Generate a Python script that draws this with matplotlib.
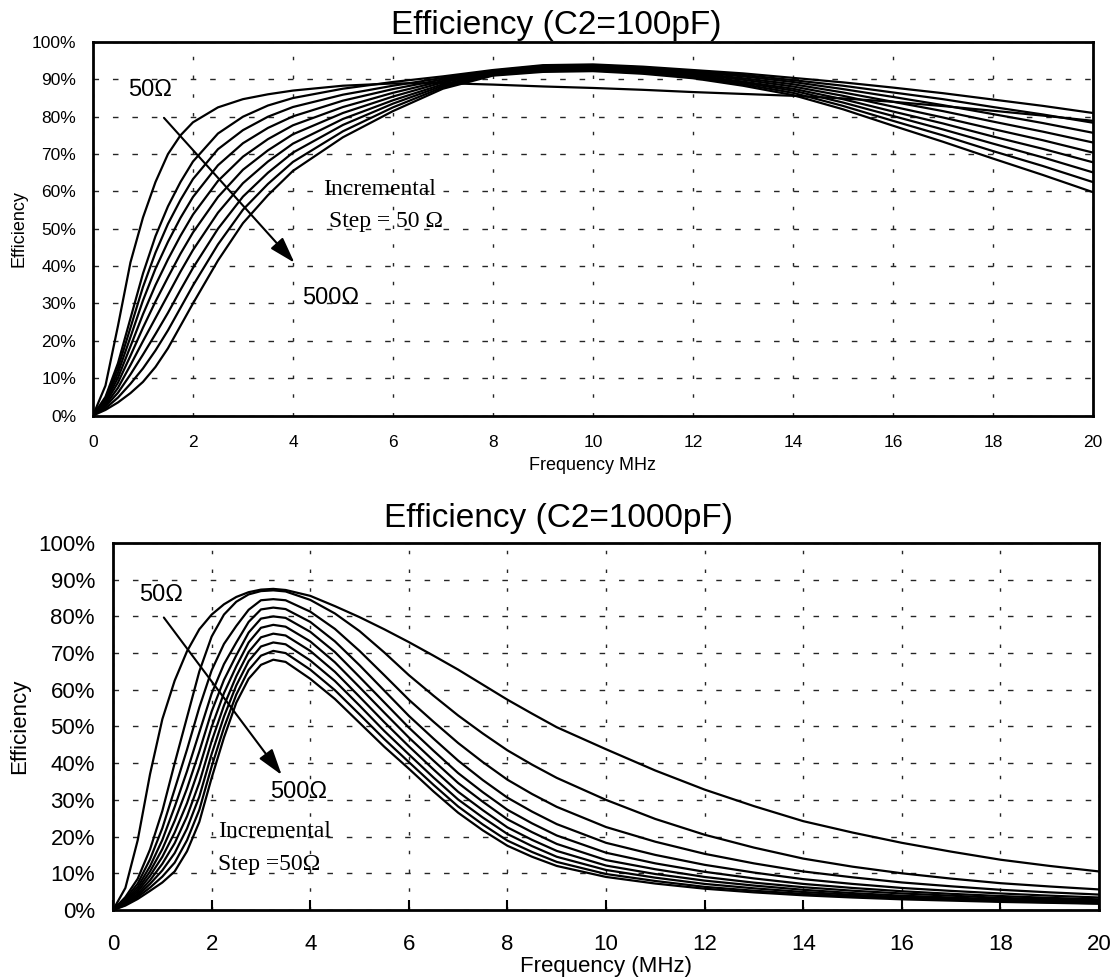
import matplotlib.pyplot as plt

# -------------------------------------------------
# Data (efficiency in %)
# -------------------------------------------------
loads = ["50", "100", "150", "200", "250", "300", "350", "400", "450", "500"]

# C2 = 100pF
freq_100pF = [0, 0.25, 0.5, 0.75, 1, 1.25, 1.5, 1.75, 2, 2.5, 3, 3.5, 4, 5, 6, 7,
              8, 9, 10, 11, 12, 13, 14, 15, 16, 17, 18, 19, 20]
eff100_50 = [0, 8, 24, 41, 53, 62.5, 70, 75, 78.5, 82.5, 84.7, 86, 87, 88.3, 88.9, 89,
             88.6, 88.1, 87.7, 87.2, 86.6, 86.1, 85.6, 84.9, 84, 82.85, 81.6, 80.3, 78.9]
eff100_100 = [0, 5, 14, 26, 38, 48, 56, 62.5, 68, 75.5, 80, 83, 85, 87.5, 89.3, 90.8,
              92.5, 93.8, 94, 93.4, 92.5, 91.6, 90.4, 89.2, 87.8, 86.3, 84.6, 82.9, 81]
eff100_150 = [0, 4.6, 12.7, 23.5, 34.4, 43.6, 51.3, 57.7, 63.3, 71.3, 76.4, 80, 82.6, 85.9, 88.3, 90.4,
              92.3, 93.6, 93.8, 93.2, 92.2, 91.2, 89.8, 88.3, 86.5, 84.7, 82.6, 80.6, 78.4]
eff100_200 = [0, 4.1, 11.4, 21, 30.8, 39.3, 46.5, 52.9, 58.5, 67, 72.9, 77, 80.1, 84.3, 87.4, 90,
              92.1, 93.4, 93.6, 93.0, 92, 90.8, 89.3, 87.4, 85.3, 83.1, 80.7, 78.3, 75.7]
eff100_250 = [0, 3.7, 10.1, 18.5, 27.1, 34.9, 41.8, 48.1, 53.8, 62.8, 69.3, 74, 77.7, 82.6, 86.4, 89.6,
              91.9, 93.1, 93.3, 92.7, 91.7, 90.3, 88.7, 86.5, 84, 81.5, 78.7, 76.0, 73.1]
eff100_300 = [0, 3.3, 8.8, 16, 23.5, 30.5, 37, 43.3, 49, 58.5, 65.8, 71, 75.3, 81, 85.4, 89.2,
              91.8, 92.9, 93.1, 92.5, 91.4, 89.9, 88.1, 85.6, 82.7, 79.8, 76.7, 73.7, 70.4]
eff100_350 = [0, 2.8, 7.4, 13.5, 19.9, 26.1, 32.3, 38.5, 44.3, 54.3, 62.2, 68, 72.8, 79.4, 84.4, 88.7,
              91.6, 92.7, 92.9, 92.2, 91.1, 89.4, 87.5, 84.7, 81.4, 78.2, 74.7, 71.4, 67.8]
eff100_400 = [0, 2.4, 6.1, 11, 16.3, 21.8, 27.5, 33.6, 39.5, 50, 58.6, 65, 70.4, 77.8, 83.5, 88.3,
              91.4, 92.5, 92.7, 92.0, 90.9, 89.1, 87, 83.8, 80.2, 76.6, 72.8, 69.1, 65.1]
eff100_450 = [0, 1.9, 4.8, 8.5, 12.6, 17.4, 22.8, 28.8, 34.8, 45.8, 55.1, 62, 67.9, 76.1, 82.5, 87.9,
              91.2, 92.2, 92.4, 91.7, 90.6, 88.7, 86.4, 82.9, 78.9, 75.0, 70.8, 66.8, 62.5]
eff100_500 = [0, 1.5, 3.5, 6, 9, 13, 18, 24, 30, 41.5, 51.5, 59, 65.5, 74.5, 81.5, 87.5,
              91, 92, 92.2, 91.5, 90.3, 88.3, 85.8, 82, 77.6, 73.3, 68.8, 64.4, 59.8]
curves_100pF = [eff100_50, eff100_100, eff100_150, eff100_200, eff100_250,
                eff100_300, eff100_350, eff100_400, eff100_450, eff100_500]

# C2 = 1000pF
freq_1000pF = [0, 0.25, 0.5, 0.75, 1, 1.25, 1.5, 1.75, 2, 2.25, 2.5, 2.75, 3, 3.25, 3.5,
               4, 4.5, 5, 5.5, 6, 6.5, 7, 7.5, 8, 8.5, 9, 10, 11, 12, 13, 14, 15, 16, 17,
               18, 19, 20]
eff1000_50 = [0, 6, 19, 37, 52, 62.5, 70.5, 76.5, 80.5, 83.3, 85.3, 86.6, 87.3, 87.5, 87.2,
              85.6, 82.8, 79.8, 76.5, 73, 69.3, 65.5, 61.4, 57.3, 53.5, 49.8, 43.8, 38, 32.8,
              28.3, 24.2, 21.1, 18.3, 15.9, 13.7, 12.0, 10.5]
eff1000_100 = [0, 3.5, 8.5, 16.5, 27, 40, 52.5, 65, 74.5, 80.5, 84, 86, 86.9, 87.1, 86.8,
               84.5, 80.8, 76, 70.2, 64, 58.4, 53, 48.1, 43.5, 39.6, 36, 30, 24.8, 20.5,
               17.0, 14, 11.8, 10, 8.55, 7.3, 6.4, 5.6]
eff1000_150 = [0, 3.0, 7.2, 13.8, 22.3, 32.9, 43.7, 55.2, 65.3, 72.5, 77.4, 81.8, 84.4, 84.7, 84.4,
               81.3, 76.6, 70.6, 64.0, 57.3, 51.3, 45.5, 40.3, 35.5, 31.6, 28.1, 22.6, 18.6, 15.3,
               12.7, 10.5, 8.9, 7.5, 6.45, 5.5, 4.8, 4.2]
eff1000_200 = [0, 2.6, 6.3, 11.9, 19.1, 28.1, 37.8, 48.4, 59.0, 67.0, 72.9, 78.5, 81.9, 82.4, 82.0,
               78.5, 73.2, 66.7, 59.8, 52.9, 46.7, 40.7, 35.4, 30.6, 26.8, 23.4, 18.3, 15.0, 12.3,
               10.2, 8.4, 7.1, 6.0, 5.2, 4.5, 3.9, 3.4]
eff1000_250 = [0, 2.3, 5.6, 10.5, 16.6, 24.3, 33.1, 43.2, 54.1, 62.7, 69.4, 75.6, 79.4, 80.0, 79.6,
               75.8, 70.3, 63.5, 56.6, 49.7, 43.4, 37.3, 32.1, 27.3, 23.6, 20.3, 15.6, 12.7, 10.4,
               8.6, 7.1, 6.0, 5.1, 4.4, 3.8, 3.3, 2.9]
eff1000_300 = [0, 2.0, 5.0, 9.3, 14.5, 21.1, 29.1, 38.8, 49.9, 59.1, 66.4, 72.9, 76.9, 77.7, 77.2,
               73.2, 67.5, 60.7, 53.8, 47.0, 40.7, 34.6, 29.5, 24.7, 21.2, 18.0, 13.6, 11.1, 9.0,
               7.45, 6.2, 5.25, 4.5, 3.9, 3.3, 2.95, 2.6]
eff1000_350 = [0, 1.8, 4.4, 8.1, 12.6, 18.2, 25.5, 34.7, 46.0, 55.7, 63.7, 70.3, 74.3, 75.3, 74.8,
               70.6, 64.9, 58.1, 51.2, 44.6, 38.3, 32.2, 27.2, 22.5, 19.1, 16.1, 12.1, 9.8, 8.0,
               6.65, 5.5, 4.6, 3.9, 3.4, 2.9, 2.6, 2.3]
eff1000_400 = [0, 1.6, 3.9, 7.1, 10.8, 15.5, 22.2, 30.9, 42.5, 52.7, 61.2, 67.8, 71.8, 72.9, 72.4,
               68.0, 62.4, 55.7, 48.8, 42.4, 36.1, 30.1, 25.2, 20.7, 17.4, 14.5, 10.9, 8.8, 7.1,
               5.9, 4.9, 4.15, 3.5, 3.1, 2.7, 2.4, 2.1]
eff1000_450 = [0, 1.4, 3.5, 6.1, 9.1, 12.9, 19.0, 27.3, 39.1, 49.7, 58.7, 65.4, 69.3, 70.6, 70.0,
               65.5, 59.9, 53.3, 46.6, 40.3, 34.1, 28.2, 23.3, 18.9, 15.8, 13.1, 9.8, 7.9, 6.3,
               5.25, 4.4, 3.75, 3.2, 2.8, 2.4, 2.1, 1.8]
eff1000_500 = [0, 1.2, 3, 5.2, 7.5, 10.5, 16, 24, 36, 47, 56.5, 63, 66.8, 68.2, 67.6,
               63, 57.5, 51, 44.5, 38.5, 32.3, 26.5, 21.7, 17.5, 14.5, 12, 9, 7.2, 5.8,
               4.8, 4, 3.4, 2.9, 2.55, 2.2, 1.95, 1.7]
curves_1000pF = [eff1000_50, eff1000_100, eff1000_150, eff1000_200, eff1000_250,
                 eff1000_300, eff1000_350, eff1000_400, eff1000_450, eff1000_500]

x_ticks = list(range(0, 21, 2))
y_ticks = list(range(0, 101, 10))
y_tick_labels = [f"{v}%" for v in y_ticks]

SANS = "Liberation Sans"
SERIF = "Liberation Serif"


# -------------------------------------------------
# Shared axes styling
# -------------------------------------------------
def style_axes(ax, tick_size, xpad, ypad):
    ax.set_xlim(0, 20)
    ax.set_ylim(0, 100)
    ax.set_xticks(x_ticks)
    ax.set_yticks(y_ticks)
    ax.set_yticklabels(y_tick_labels)
    ax.xaxis.grid(True, linestyle=(0, (2.5, 11)), color="0.15", linewidth=1.0)
    ax.yaxis.grid(True, linestyle=(0, (4, 10)), color="0.15", linewidth=1.0)
    ax.set_axisbelow(True)
    for sp in ax.spines.values():
        sp.set_linewidth(2.0)
        sp.set_color("black")
    ax.tick_params(axis="y", length=0, pad=ypad, labelsize=tick_size)
    ax.tick_params(axis="x", length=0, pad=xpad, labelsize=tick_size)
    for lab in ax.get_xticklabels() + ax.get_yticklabels():
        lab.set_fontfamily(SANS)


fig = plt.figure(figsize=(11.16, 9.77), dpi=100)

# -------------------------------------------------
# Top: C2 = 100pF
# -------------------------------------------------
ax1 = fig.add_axes([0.0833, 0.5747, 0.896, 0.3823])
for eff in curves_100pF:
    ax1.plot(freq_100pF, eff, color="black", linewidth=1.6)
style_axes(ax1, 12.5, 14, 12)
ax1.text(0.463, 1.021, "Efficiency (C2=100pF)", transform=ax1.transAxes,
         ha="center", va="baseline", fontsize=24, family=SANS)
ax1.set_xlabel("Frequency MHz", fontsize=13, family=SANS)
ax1.xaxis.set_label_coords(0.5, -0.111)
ax1.set_ylabel("Efficiency", fontsize=13, family=SANS)
ax1.yaxis.set_label_coords(-0.065, 0.5)

ax1.annotate("", xy=(4.03, 40.9), xytext=(1.42, 79.7),
             arrowprops=dict(arrowstyle="-|>,head_length=0.8,head_width=0.25",
                             color="black", lw=1.5, mutation_scale=20,
                             shrinkA=0, shrinkB=0))
ax1.text(0.71, 87.1, "50\u03a9", fontsize=17, family=SANS, ha="left", va="center")
ax1.text(4.18, 31.5, "500\u03a9", fontsize=17, family=SANS, ha="left", va="center")
ax1.text(4.61, 60.4, "Incremental", fontsize=17, family=SERIF, ha="left", va="center")
ax1.text(4.72, 51.9, "Step = 50 \u03a9", fontsize=17, family=SERIF, ha="left", va="center")

# -------------------------------------------------
# Bottom: C2 = 1000pF
# -------------------------------------------------
ax2 = fig.add_axes([0.1013, 0.0686, 0.8835, 0.3756])
for eff in curves_1000pF:
    ax2.plot(freq_1000pF, eff, color="black", linewidth=1.6)
style_axes(ax2, 16, 17, 13)
ax2.tick_params(axis="x", direction="in", length=7, width=1.5)
ax2.text(0.452, 1.045, "Efficiency (C2=1000pF)", transform=ax2.transAxes,
         ha="center", va="baseline", fontsize=24, family=SANS)
ax2.set_xlabel("Frequency (MHz)", fontsize=16, family=SANS)
ax2.xaxis.set_label_coords(0.5, -0.125)
ax2.set_ylabel("Efficiency", fontsize=16, family=SANS)
ax2.yaxis.set_label_coords(-0.084, 0.5)

ax2.annotate("", xy=(3.42, 36.8), xytext=(1.03, 79.7),
             arrowprops=dict(arrowstyle="-|>,head_length=0.8,head_width=0.25",
                             color="black", lw=1.5, mutation_scale=20,
                             shrinkA=0, shrinkB=0))
ax2.text(0.52, 85.8, "50\u03a9", fontsize=17, family=SANS, ha="left", va="center")
ax2.text(3.18, 32.2, "500\u03a9", fontsize=17, family=SANS, ha="left", va="center")
ax2.text(2.13, 21.3, "Incremental", fontsize=17, family=SERIF, ha="left", va="center")
ax2.text(2.13, 12.3, "Step =50\u03a9", fontsize=17, family=SERIF, ha="left", va="center")

fig.savefig("out.png", dpi=100)
